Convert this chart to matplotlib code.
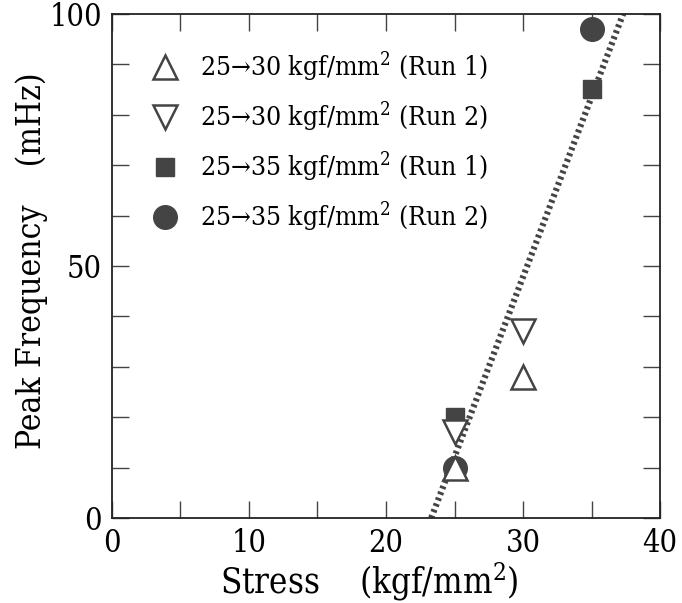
import matplotlib
matplotlib.use('Agg')
import matplotlib.pyplot as plt
from matplotlib.ticker import MultipleLocator

# data
x_up = [25, 30]      # 25->30 (Run 1)
y_up = [10, 28]
x_down = [25, 30]    # 25->30 (Run 2)
y_down = [17, 37]
x_sq = [25, 35]      # 25->35 (Run 1)
y_sq = [20, 85]
x_ci = [25, 35]      # 25->35 (Run 2)
y_ci = [10, 97]
fit_x = [23.3, 37.3]
fit_y = [0, 100]

labels = ['25→30 kgf/mm$^2$ (Run 1)', '25→30 kgf/mm$^2$ (Run 2)',
          '25→35 kgf/mm$^2$ (Run 1)', '25→35 kgf/mm$^2$ (Run 2)']

plt.rcParams['font.family'] = ['DejaVu Serif']
plt.rcParams['font.stretch'] = 'condensed'
plt.rcParams['mathtext.fontset'] = 'dejavuserif'

fig = plt.figure(figsize=(6.82, 6.03), dpi=100)
ax = fig.add_axes([0.164, 0.141, 0.804, 0.836])

dark = '#444444'
ax.plot(fit_x, fit_y, color=dark, lw=4.5, linestyle=(0, (0.45, 0.55)), zorder=1)

ax.plot(x_ci, y_ci, 'o', ms=17, color=dark, mec=dark, label=labels[3], zorder=2)
ax.plot(x_sq, y_sq, 's', ms=13, color=dark, mec=dark, label=labels[2], zorder=2)
ax.plot(x_down, y_down, 'v', ms=17, mfc='white', mec=dark, mew=1.8, label=labels[1], zorder=3)
ax.plot(x_up, y_up, '^', ms=17, mfc='white', mec=dark, mew=1.8, label=labels[0], zorder=3)

ax.set_xlim(0, 40)
ax.set_ylim(0, 100)
ax.xaxis.set_major_locator(MultipleLocator(10))
ax.xaxis.set_minor_locator(MultipleLocator(5))
ax.yaxis.set_major_locator(MultipleLocator(50))
ax.yaxis.set_minor_locator(MultipleLocator(10))
ax.tick_params(which='both', direction='in', top=True, right=True,
               length=12, width=1.0, color=dark)
ax.tick_params(labelsize=22, pad=7)
for s in ax.spines.values():
    s.set_linewidth(1.3)
    s.set_color('#222222')

ax.set_xlabel('Stress    (kgf/mm$^2$)', fontsize=25)
ax.xaxis.set_label_coords(0.47, -0.085)
ax.set_ylabel('Peak Frequency    (mHz)', fontsize=24)
ax.yaxis.set_label_coords(-0.117, 0.51)

h, l = ax.get_legend_handles_labels()
order = [3, 2, 1, 0]
ax.legend([h[i] for i in order], [l[i] for i in order], loc='upper left',
          frameon=False, fontsize=19, labelspacing=0.62, handletextpad=0.3,
          borderaxespad=0, bbox_to_anchor=(0.03, 0.948))

fig.savefig('out.png', dpi=100)
